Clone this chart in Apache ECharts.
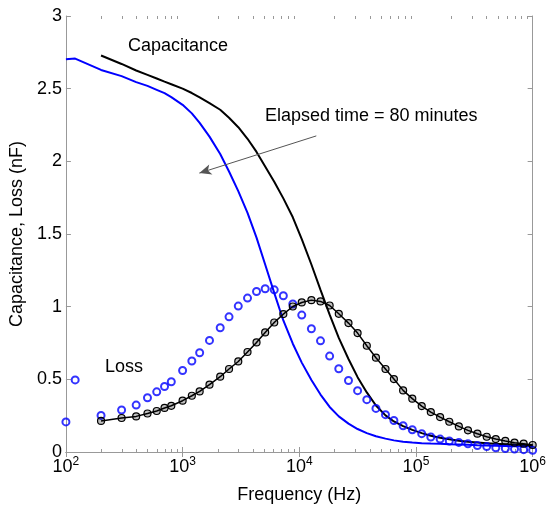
<!DOCTYPE html>
<html>
<head>
<meta charset="utf-8">
<script src="https://cdn.jsdelivr.net/npm/echarts@6/dist/echarts.min.js"></script>
<style>
html,body{margin:0;padding:0;background:#fff;}
#chart{width:549px;height:509px;}
</style>
</head>
<body>
<div id="chart"></div>
<script>
// ---- data (frequency in Hz, values in nF) ----
const freqLow = [100, 120];
const freqMain = [200, 300, 400, 500, 600, 700, 800,
  1000, 1200, 1400, 1700, 2100, 2500, 3000, 3600, 4300, 5100, 6100, 7300, 8800,
  10500, 12700, 15200, 18200, 21800, 26400, 31600, 37900, 45400, 54800, 64700, 77600, 93000,
  112000, 134000, 161000, 193000, 233000, 279000, 336000, 404000, 483000, 583000, 699000, 837000, 1000000];
const blueFreq = freqLow.concat(freqMain);

const blueCap = [2.703, 2.707,
  2.629, 2.586, 2.545, 2.519, 2.492, 2.469, 2.442,
  2.389, 2.33, 2.265, 2.17, 2.05, 1.93, 1.795, 1.645, 1.475, 1.29, 1.095, 0.905, 0.745,
  0.615, 0.495, 0.395, 0.31, 0.245, 0.195, 0.158, 0.13, 0.108, 0.092, 0.08, 0.071, 0.065,
  0.061, 0.058, 0.056, 0.054, 0.052, 0.050, 0.047, 0.045, 0.043, 0.042, 0.040, 0.039, 0.038];

const blueLoss = [0.207, 0.496,
  0.252, 0.289, 0.323, 0.373, 0.414, 0.451, 0.483,
  0.561, 0.626, 0.683, 0.768, 0.855, 0.930, 1.004, 1.059, 1.104, 1.123, 1.116, 1.075, 1.018,
  0.942, 0.848, 0.765, 0.660, 0.573, 0.492, 0.422, 0.360, 0.300, 0.257, 0.217, 0.181, 0.153,
  0.126, 0.103, 0.089, 0.076, 0.066, 0.057, 0.044, 0.037, 0.029, 0.024, 0.020, 0.016, 0.012];

const blackCap = [2.728, 2.67, 2.625, 2.595, 2.57, 2.548, 2.53,
  2.50, 2.47, 2.44, 2.40, 2.355, 2.30, 2.235, 2.155, 2.065, 1.965, 1.86, 1.745, 1.615,
  1.465, 1.29, 1.115, 0.945, 0.785, 0.64, 0.515, 0.41, 0.32, 0.252, 0.21, 0.178, 0.152,
  0.13, 0.112, 0.098, 0.087, 0.078, 0.071, 0.065, 0.061, 0.057, 0.054, 0.051, 0.049, 0.047];

const blackLoss = [0.214, 0.234, 0.245, 0.265, 0.282, 0.303, 0.318,
  0.353, 0.387, 0.417, 0.463, 0.518, 0.571, 0.623, 0.688, 0.754, 0.823, 0.891, 0.949, 1.001,
  1.029, 1.045, 1.036, 1.008, 0.951, 0.887, 0.818, 0.731, 0.649, 0.571, 0.502, 0.424, 0.367,
  0.316, 0.275, 0.240, 0.208, 0.176, 0.149, 0.126, 0.105, 0.089, 0.076, 0.064, 0.057, 0.048];

const yTicks = [0, 0.5, 1, 1.5, 2, 2.5, 3];
const xName = 'Frequency (Hz)';
const yName = 'Capacitance, Loss (nF)';
const capLabel = 'Capacitance';
const lossLabel = 'Loss';
const timeLabel = 'Elapsed time = 80 minutes';
const arrowFrom = [13990, 2.175];
const arrowTo = [1392, 1.919];

// minor tick positions of the log axis (2..9 x 10^k)
const minorTicks = [];
for (let k = 2; k < 6; k++) for (let m = 2; m <= 9; m++) minorTicks.push([m * Math.pow(10, k), 0]);

const zip = (xs, ys) => xs.map((x, i) => [x, ys[i]]);
const FONT = '"Liberation Sans", Arial, Helvetica, sans-serif';
const AX = '#999';
const BLUE = '#0000ff';

const chart = echarts.init(document.getElementById('chart'), null, {renderer: 'canvas'});

const logAxisBase = {
  type: 'log', logBase: 10, min: 100, max: 1000000,
  axisLine: {show: true, lineStyle: {color: AX, width: 1}},
  axisTick: {show: true, inside: true, length: 5, lineStyle: {color: AX}},
  splitLine: {show: false},
  minorTick: {show: false}
};
const valAxisBase = {
  type: 'value', min: 0, max: 3, interval: 0.5,
  axisLine: {show: true, lineStyle: {color: AX, width: 1}},
  axisTick: {show: true, inside: true, length: 5, lineStyle: {color: AX}},
  splitLine: {show: false}
};

chart.setOption({
  animation: false,
  backgroundColor: '#fff',
  textStyle: {fontFamily: FONT},
  grid: {left: 63, right: 11, top: 16, bottom: 57, containLabel: false},
  xAxis: [
    Object.assign({}, logAxisBase, {
      position: 'bottom',
      name: xName, nameLocation: 'middle', nameGap: 34,
      nameTextStyle: {fontSize: 18, color: '#000', fontFamily: FONT},
      axisLabel: {
        show: true, margin: 4, color: '#000',
        formatter: v => '{b|10}{s|' + Math.round(Math.log10(v)) + '}',
        rich: {
          b: {fontSize: 18, lineHeight: 22, fontFamily: FONT, color: '#000'},
          s: {fontSize: 12, lineHeight: 10, verticalAlign: 'top', fontFamily: FONT, color: '#000'}
        }
      }
    }),
    Object.assign({}, logAxisBase, {position: 'top', axisLabel: {show: false}})
  ],
  yAxis: [
    Object.assign({}, valAxisBase, {
      position: 'left',
      name: yName, nameLocation: 'middle', nameGap: 32, nameRotate: 90,
      nameTextStyle: {fontSize: 18, color: '#000', fontFamily: FONT},
      axisLabel: {show: true, margin: 4, fontSize: 18, color: '#000', fontFamily: FONT,
        formatter: v => (yTicks.indexOf(v) >= 0 ? String(v) : '')}
    }),
    Object.assign({}, valAxisBase, {position: 'right', axisLabel: {show: false}})
  ],
  series: [
    {
      name: 'minor ticks', type: 'custom', xAxisIndex: 0, yAxisIndex: 0,
      data: minorTicks, silent: true, clip: false, z: 1,
      renderItem: function (params, api) {
        const v = api.value(0);
        const b = api.coord([v, 0]);
        const t = api.coord([v, 3]);
        const x = Math.round(b[0]) + 0.5;
        return {
          type: 'group',
          children: [
            {type: 'line', shape: {x1: x, y1: b[1], x2: x, y2: b[1] - 3}, style: {stroke: AX, lineWidth: 1}},
            {type: 'line', shape: {x1: x, y1: t[1], x2: x, y2: t[1] + 3}, style: {stroke: AX, lineWidth: 1}}
          ]
        };
      }
    },
    {
      name: 'Capacitance (blue)', type: 'line', data: zip(blueFreq, blueCap),
      symbol: 'none', lineStyle: {color: BLUE, width: 2}, z: 3,
      markLine: {
        silent: true, symbol: ['none', 'arrow'], symbolSize: [8, 12],
        label: {show: false},
        lineStyle: {color: '#555', width: 1, type: 'solid'},
        data: [[{coord: arrowFrom}, {coord: arrowTo}]]
      }
    },
    {
      name: 'Capacitance (black)', type: 'line', data: zip(freqMain, blackCap),
      symbol: 'none', lineStyle: {color: '#000', width: 2}, z: 3
    },
    {
      name: 'Loss (blue)', type: 'scatter', data: zip(blueFreq, blueLoss),
      symbol: 'circle', symbolSize: 7,
      itemStyle: {color: 'rgba(255,255,255,0)', borderColor: BLUE, borderWidth: 2}, z: 4
    },
    {
      name: 'Loss (black)', type: 'line', data: zip(freqMain, blackLoss),
      symbol: 'circle', symbolSize: 7, showAllSymbol: true,
      lineStyle: {color: '#000', width: 1.5},
      itemStyle: {color: 'rgba(0,0,0,0.25)', borderColor: '#000', borderWidth: 1.2}, z: 5
    }
  ],
  graphic: [
    {type: 'text', x: 128, y: 46, style: {text: capLabel, font: '18px ' + FONT, fill: '#000', verticalAlign: 'middle'}},
    {type: 'text', x: 265, y: 116, style: {text: timeLabel, font: '18px ' + FONT, fill: '#000', verticalAlign: 'middle'}},
    {type: 'text', x: 105, y: 367, style: {text: lossLabel, font: '18px ' + FONT, fill: '#000', verticalAlign: 'middle'}}
  ]
});
</script>
</body>
</html>
